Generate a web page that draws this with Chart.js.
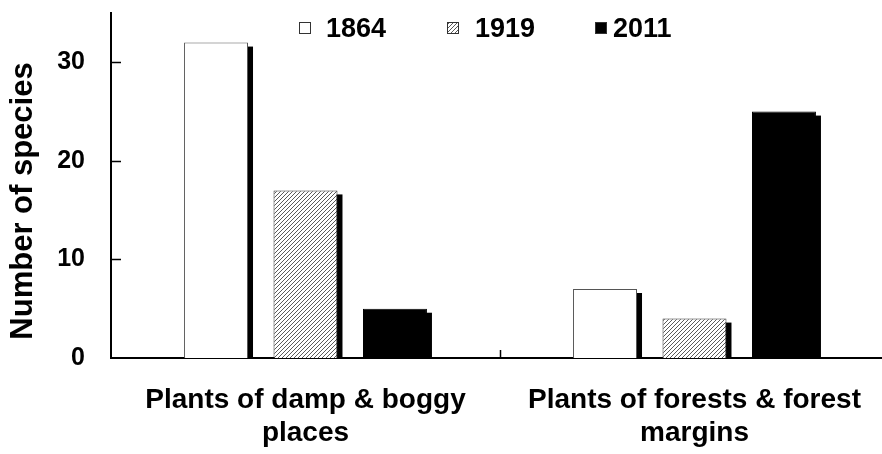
<!DOCTYPE html>
<html>
<head>
<meta charset="utf-8">
<script src="https://cdn.jsdelivr.net/npm/chart.js@4/dist/chart.umd.min.js"></script>
<style>
  html, body { margin: 0; padding: 0; background: #fff; overflow: hidden; }
  #frame { width: 882px; height: 454px; overflow: hidden; }
  /* plot runs a few px past the right edge, as in the figure */
  #wrap { position: relative; width: 889px; height: 454px; }
</style>
</head>
<body>
<div id="frame"><div id="wrap"><canvas id="speciesChart"></canvas></div></div>
<script>
// values
const categories = [['Plants of damp & boggy', 'places'], ['Plants of forests & forest', 'margins']];
const years = ['1864', '1919', '2011'];
const values1864 = [32, 7];
const values1919 = [17, 4];
const values2011 = [5, 25];
const yTicks = [0, 10, 20, 30];
const yMax = 35;
const yTitle = 'Number of species';

const FONT = '"Liberation Sans", Arial, sans-serif';

// diagonal hatch used for 1919
function hatchPattern() {
  const c = document.createElement('canvas');
  c.width = 4;
  c.height = 4;
  const g = c.getContext('2d');
  g.fillStyle = '#fff';
  g.fillRect(0, 0, 4, 4);
  g.strokeStyle = '#5a5a5a';
  g.lineWidth = 1;
  g.beginPath();
  g.moveTo(-1, 5); g.lineTo(5, -1);
  g.moveTo(-1, 1); g.lineTo(1, -1);
  g.moveTo(3, 5); g.lineTo(5, 3);
  g.stroke();
  return g.createPattern(c, 'repeat');
}

// legend spots (box left, gap to text)
const legendBoxX = [299, 447, 595];
const legendGap = [27, 28, 18];

const extras = {
  id: 'extras',
  // black drop shadow behind every bar
  beforeDatasetsDraw(chart) {
    const ctx = chart.ctx;
    ctx.save();
    ctx.fillStyle = '#000';
    chart.data.datasets.forEach((ds, i) => {
      chart.getDatasetMeta(i).data.forEach((bar) => {
        const { x, y, base, width } = bar.getProps(['x', 'y', 'base', 'width'], true);
        ctx.fillRect(x - width / 2 + 5, y + 4, width, base - y - 4);
      });
    });
    ctx.restore();
  },
  afterDraw(chart) {
    const ctx = chart.ctx;
    const sx = chart.scales.x;
    const sy = chart.scales.y;
    const area = chart.chartArea;
    ctx.save();
    // inward tick marks
    ctx.strokeStyle = '#000';
    ctx.lineWidth = 1.5;
    ctx.beginPath();
    yTicks.forEach((v) => {
      if (v === 0) return;
      const py = Math.round(sy.getPixelForValue(v)) + 0.5;
      ctx.moveTo(area.left, py);
      ctx.lineTo(area.left + 10, py);
    });
    const mid = Math.round((sx.getPixelForValue(0) + sx.getPixelForValue(1)) / 2) + 0.5;
    ctx.moveTo(mid, area.bottom);
    ctx.lineTo(mid, area.bottom - 8);
    ctx.stroke();

    // y axis title
    ctx.fillStyle = '#000';
    ctx.font = 'bold 31px ' + FONT;
    ctx.textAlign = 'center';
    ctx.textBaseline = 'alphabetic';
    ctx.save();
    ctx.translate(32, 201);
    ctx.rotate(-Math.PI / 2);
    ctx.fillText(yTitle, 0, 0);
    ctx.restore();

    // legend
    ctx.font = 'bold 27px ' + FONT;
    ctx.textAlign = 'left';
    chart.data.datasets.forEach((ds, i) => {
      const bx = legendBoxX[i];
      ctx.fillStyle = ds.backgroundColor;
      ctx.fillRect(bx, 22, 12, 12);
      ctx.strokeStyle = '#333';
      ctx.lineWidth = 1;
      ctx.strokeRect(bx + 0.5, 22.5, 11, 11);
      ctx.fillStyle = '#000';
      ctx.fillText(ds.label, bx + legendGap[i], 37);
    });
    ctx.restore();
  },
};

function createChart() {
  const ctx = document.getElementById('speciesChart').getContext('2d');
  new Chart(ctx, {
    type: 'bar',
    data: {
      labels: categories,
      datasets: [
        { label: years[0], data: values1864, backgroundColor: '#fff', borderColor: '#555', borderWidth: 1 },
        { label: years[1], data: values1919, backgroundColor: hatchPattern(), borderColor: '#333', borderWidth: 1 },
        { label: years[2], data: values2011, backgroundColor: '#000', borderColor: '#000', borderWidth: 1 },
      ],
    },
    options: {
      responsive: true,
      maintainAspectRatio: false,
      animation: false,
      categoryPercentage: 0.69,
      barPercentage: 0.715,
      layout: { padding: { top: 13, right: 0, left: 0, bottom: 0 } },
      plugins: { legend: { display: false }, tooltip: { enabled: false } },
      scales: {
        x: {
          grid: { display: false, drawTicks: false },
          border: { display: true, color: '#000', width: 2 },
          ticks: { color: '#000', padding: 26, maxRotation: 0, font: { family: FONT, weight: 'bold', size: 28, lineHeight: 1.18 } },
          afterFit: (scale) => {
            scale.height = 96;
            scale.paddingLeft = 0;
            scale.paddingRight = 0;
          },
        },
        y: {
          min: 0,
          max: yMax,
          grid: { display: false, drawTicks: false },
          border: { display: true, color: '#000', width: 2 },
          ticks: { color: '#000', padding: 26, stepSize: 10, font: { family: FONT, weight: 'bold', size: 25 } },
          afterBuildTicks: (scale) => { scale.ticks = yTicks.map((v) => ({ value: v })); },
          afterFit: (scale) => {
            scale.width = 111;
            scale.paddingTop = 0;
            scale.paddingBottom = 0;
          },
        },
      },
    },
    plugins: [extras],
  });
}

window.onload = () => {
  createChart();
};
</script>
</body>
</html>
